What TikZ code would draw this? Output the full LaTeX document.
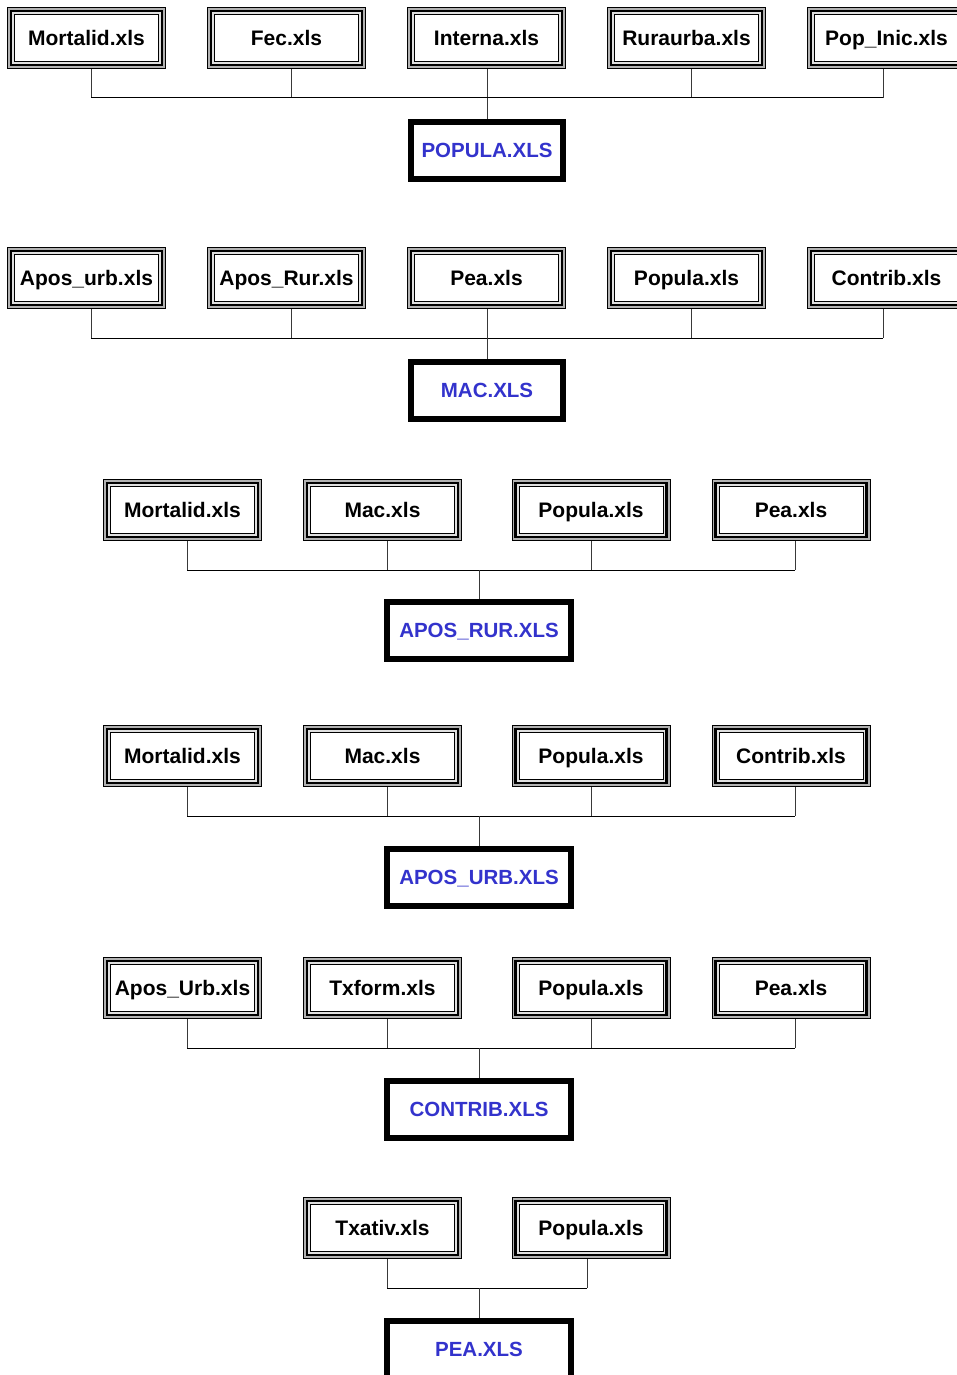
\documentclass[tikz,border=0pt]{standalone}
\usepackage{fontspec}
\setmainfont{Liberation Sans}
\definecolor{outblue}{RGB}{51,51,204}
\newcommand\inframe[2]{%
  \fill[gray!60] (#1-79.5,#2-31) rectangle (#1+79.5,#2+31);
  \draw[black,line width=1pt] (#1-79,#2-30.5) rectangle (#1+79,#2+30.5);
  \draw[black,line width=2.4pt,fill=gray!25] (#1-75.5,#2-27) rectangle (#1+75.5,#2+27);
  \draw[black,line width=1pt,fill=white] (#1-72,#2-23.5) rectangle (#1+72,#2+23.5);
}
\newcommand\inbox[4]{% name, cx, cy, text
  \inframe{#2}{#3}
  \node[inbox] (#1) at (#2,#3) {#4};
}
\begin{document}
\begin{tikzpicture}[x=1pt,y=-1pt,
  inbox/.style={rectangle,inner sep=0pt,minimum width=159pt,minimum height=62pt,
    text height=15pt,text depth=0pt,font=\fontsize{21}{24}\selectfont\bfseries},
  outbox/.style={rectangle,draw=black,line width=6pt,fill=white,inner sep=0pt,
    minimum height=57pt,text height=14.7pt,text depth=0pt,text=outblue,
    font=\fontsize{20.5}{24}\selectfont\bfseries},
  vline/.style={draw=gray!45!black,line width=1pt},
  hline/.style={draw=black,line width=1pt}]
\useasboundingbox (0,0) rectangle (957,1375);
\clip (0,0) rectangle (957,1375);
\fill[white] (0,0) rectangle (957,1375);

% ---------- Row 1 ----------
\inbox{a1}{86.5}{38}{Mortalid.xls}
\inbox{a2}{286.5}{38}{Fec.xls}
\inbox{a3}{486.5}{38}{Interna.xls}
\inbox{a4}{686.5}{38}{Ruraurba.xls}
\inbox{a5}{886.5}{38}{Pop\_Inic.xls}
\coordinate (ja) at (487,98);
\coordinate (ta1) at ([xshift=4.5pt]a1.south);
\coordinate (ta2) at ([xshift=4.5pt]a2.south);
\coordinate (ta3) at ([xshift=0.5pt]a3.south);
\coordinate (ta4) at ([xshift=4.5pt]a4.south);
\coordinate (ta5) at ([xshift=-3.5pt]a5.south);
\foreach \c in {ta1,ta2,ta3,ta4,ta5} \draw[vline] (\c) -- (\c |- ja);
\draw[hline] (ta1 |- ja) -- (ta5 |- ja);
\node[outbox,minimum width=152pt] (A) at (487,150.5) {POPULA.XLS};
\draw[vline] (ja) -- (A.north);

% ---------- Row 2 ----------
\inbox{b1}{86.5}{278}{Apos\_urb.xls}
\inbox{b2}{286.5}{278}{Apos\_Rur.xls}
\inbox{b3}{486.5}{278}{Pea.xls}
\inbox{b4}{686.5}{278}{Popula.xls}
\inbox{b5}{886.5}{278}{Contrib.xls}
\coordinate (jb) at (487,338);
\coordinate (tb1) at ([xshift=4.5pt]b1.south);
\coordinate (tb2) at ([xshift=4.5pt]b2.south);
\coordinate (tb3) at ([xshift=0.5pt]b3.south);
\coordinate (tb4) at ([xshift=4.5pt]b4.south);
\coordinate (tb5) at ([xshift=-3.5pt]b5.south);
\foreach \c in {tb1,tb2,tb3,tb4,tb5} \draw[vline] (\c) -- (\c |- jb);
\draw[hline] (tb1 |- jb) -- (tb5 |- jb);
\node[outbox,minimum width=152pt] (B) at (487,390) {MAC.XLS};
\draw[vline] (jb) -- (B.north);

% ---------- Row 3 ----------
\inbox{c1}{182.5}{510}{Mortalid.xls}
\inbox{c2}{382.5}{510}{Mac.xls}
\inbox{c3}{591}{510}{Popula.xls}
\inbox{c4}{791}{510}{Pea.xls}
\coordinate (jc) at (479,570);
\coordinate (tc1) at ([xshift=4.5pt]c1.south);
\coordinate (tc2) at ([xshift=4.5pt]c2.south);
\coordinate (tc3) at ([xshift=0pt]c3.south);
\coordinate (tc4) at ([xshift=4pt]c4.south);
\foreach \c in {tc1,tc2,tc3,tc4} \draw[vline] (\c) -- (\c |- jc);
\draw[hline] (tc1 |- jc) -- (tc4 |- jc);
\node[outbox,minimum width=184pt] (C) at (479,630) {APOS\_RUR.XLS};
\draw[vline] (jc) -- (C.north);

% ---------- Row 4 ----------
\inbox{d1}{182.5}{756}{Mortalid.xls}
\inbox{d2}{382.5}{756}{Mac.xls}
\inbox{d3}{591}{756}{Popula.xls}
\inbox{d4}{791}{756}{Contrib.xls}
\coordinate (jd) at (479,816);
\coordinate (td1) at ([xshift=4.5pt]d1.south);
\coordinate (td2) at ([xshift=4.5pt]d2.south);
\coordinate (td3) at ([xshift=0pt]d3.south);
\coordinate (td4) at ([xshift=4pt]d4.south);
\foreach \c in {td1,td2,td3,td4} \draw[vline] (\c) -- (\c |- jd);
\draw[hline] (td1 |- jd) -- (td4 |- jd);
\node[outbox,minimum width=184pt] (D) at (479,877) {APOS\_URB.XLS};
\draw[vline] (jd) -- (D.north);

% ---------- Row 5 ----------
\inbox{e1}{182.5}{988}{Apos\_Urb.xls}
\inbox{e2}{382.5}{988}{Txform.xls}
\inbox{e3}{591}{988}{Popula.xls}
\inbox{e4}{791}{988}{Pea.xls}
\coordinate (je) at (479,1048);
\coordinate (te1) at ([xshift=4.5pt]e1.south);
\coordinate (te2) at ([xshift=4.5pt]e2.south);
\coordinate (te3) at ([xshift=0pt]e3.south);
\coordinate (te4) at ([xshift=4pt]e4.south);
\foreach \c in {te1,te2,te3,te4} \draw[vline] (\c) -- (\c |- je);
\draw[hline] (te1 |- je) -- (te4 |- je);
\node[outbox,minimum width=184pt] (E) at (479,1109) {CONTRIB.XLS};
\draw[vline] (je) -- (E.north);

% ---------- Row 6 ----------
\inbox{f1}{382.5}{1228}{Txativ.xls}
\inbox{f2}{591}{1228}{Popula.xls}
\coordinate (jf) at (479,1288);
\coordinate (tf1) at ([xshift=4.5pt]f1.south);
\coordinate (tf2) at ([xshift=-4pt]f2.south);
\foreach \c in {tf1,tf2} \draw[vline] (\c) -- (\c |- jf);
\draw[hline] (tf1 |- jf) -- (tf2 |- jf);
\node[outbox,minimum width=184pt] (F) at (479,1349) {PEA.XLS};
\draw[vline] (jf) -- (F.north);
\end{tikzpicture}
\end{document}
